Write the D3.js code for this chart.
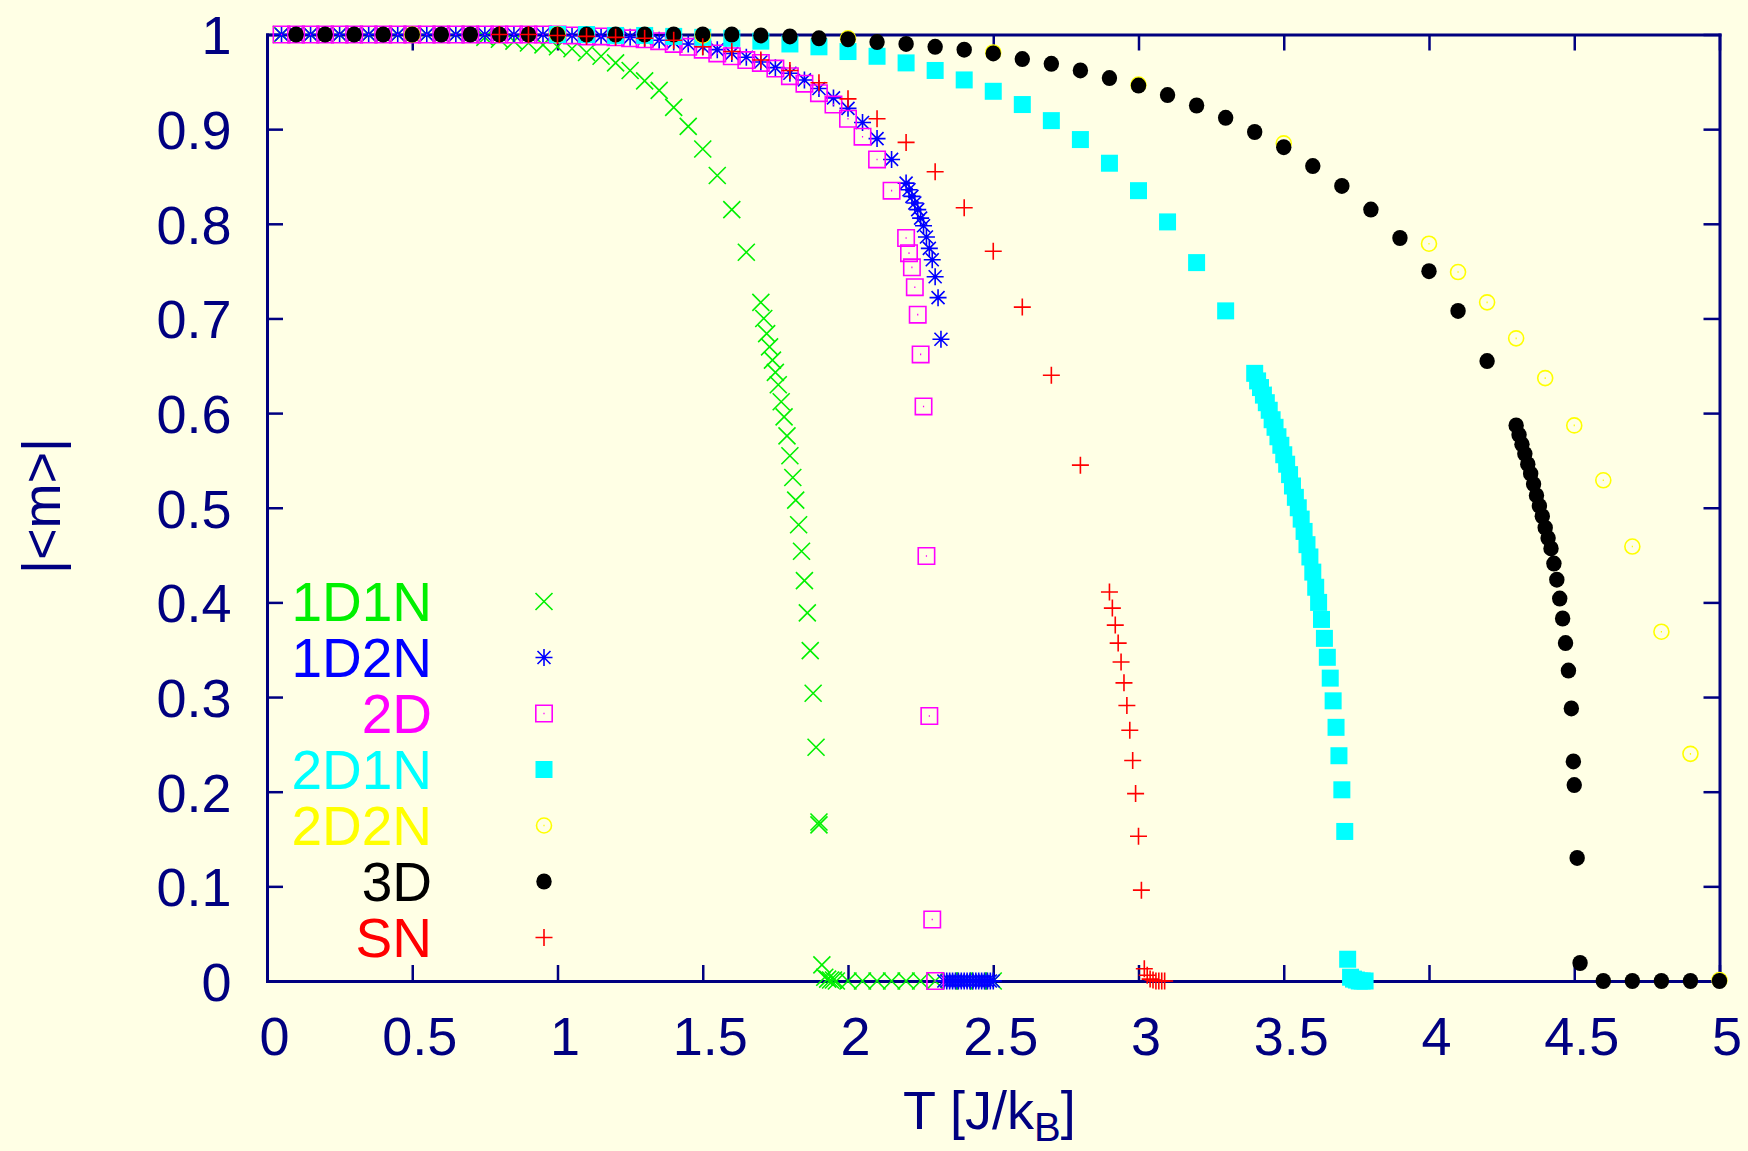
<!DOCTYPE html>
<html>
<head>
<meta charset="utf-8">
<script src="https://d3js.org/d3.v7.min.js"></script>
<style>
  body { margin: 0; background: #ffffe5; }
  svg { display: block; }
</style>
</head>
<body>
<div id="chart"></div>
<script>
// magnetisation |<m>| vs temperature T, one pair of arrays per model
var t1D1N = [0.05,0.1,0.15,0.2,0.25,0.3,0.35,0.4,0.45,0.5,0.55,0.6,0.65,0.7,0.75,0.8,0.85,0.9,0.95,1.0,1.05,1.1,1.15,1.2,1.25,1.3,1.35,1.4,1.45,1.5,1.55,1.6,1.65,
  1.70,1.71,1.72,1.73,1.74,1.75,1.76,1.77,1.78,1.79,1.80,1.81,1.82,1.83,1.84,1.85,1.86,1.87,1.88,1.89,1.90,1.90,1.91,1.92,1.93,1.94,1.95,1.96,
  2.0,2.05,2.1,2.15,2.2,2.25,2.3,2.35,2.4,2.45,2.5];
var m1D1N = [1,1,1,1,1,1,1,1,1,1,1,1,1,1,0.997,0.995,0.993,0.991,0.989,0.987,0.985,0.981,0.977,0.970,0.962,0.951,0.941,0.923,0.903,0.879,0.851,0.815,0.770,
  0.717,0.700,0.684,0.670,0.656,0.643,0.630,0.612,0.596,0.576,0.555,0.532,0.508,0.482,0.454,0.423,0.389,0.349,0.304,0.247,0.168,0.165,0.017,0.004,0.002,0.001,0.001,0,
  0,0,0,0,0,0,0,0,0,0,0];

var t1D2N = [0.05,0.1,0.15,0.2,0.25,0.3,0.35,0.4,0.45,0.5,0.55,0.6,0.65,0.7,0.75,0.8,0.85,0.9,0.95,1.0,1.05,1.1,1.15,1.2,1.25,1.3,1.35,1.4,1.45,1.5,1.55,1.6,1.65,1.7,1.75,1.8,1.85,1.9,1.95,2.0,2.05,2.1,2.15,
  2.20,2.21,2.22,2.23,2.24,2.25,2.26,2.27,2.28,2.29,2.30,2.31,2.32,
  2.33,2.34,2.35,2.36,2.37,2.38,2.39,2.40,2.41,2.42,2.43,2.44,2.45,2.46,2.47,2.48,2.49,2.50];
var m1D2N = [1,1,1,1,1,1,1,1,1,1,1,1,1,1,1,1,1,1,1,1,0.999,0.999,0.998,0.998,0.997,0.996,0.994,0.992,0.990,0.987,0.984,0.980,0.976,0.971,0.965,0.959,0.952,0.943,0.933,0.922,0.907,0.890,0.868,
  0.843,0.836,0.829,0.822,0.815,0.806,0.798,0.786,0.774,0.762,0.744,0.722,0.678,
  0,0,0,0,0,0,0,0,0,0,0,0,0,0,0,0,0,0];

var t2D = [0.05,0.1,0.15,0.2,0.25,0.3,0.35,0.4,0.45,0.5,0.55,0.6,0.65,0.7,0.75,0.8,0.85,0.9,0.95,1.0,1.05,1.1,1.15,1.2,1.25,1.3,1.35,1.4,1.45,1.5,1.55,1.6,1.65,1.7,1.75,1.8,1.85,1.9,1.95,2.0,2.05,2.1,2.15,
  2.20,2.21,2.22,2.23,2.24,2.25,2.26,2.27,2.28,2.29,2.30];
var m2D = [1,1,1,1,1,1,1,1,1,1,1,1,1,1,1,1,1,1,1,1,0.999,0.998,0.998,0.997,0.996,0.995,0.993,0.990,0.987,0.984,0.980,0.977,0.973,0.970,0.964,0.956,0.948,0.938,0.926,0.911,0.892,0.868,0.835,
  0.785,0.769,0.754,0.733,0.704,0.662,0.607,0.449,0.280,0.065,0];

var t2D1N = [1.0,1.1,1.2,1.3,1.4,1.5,1.6,1.7,1.8,1.9,2.0,2.1,2.2,2.3,2.4,2.5,2.6,2.7,2.8,2.9,3.0,3.1,3.2,3.3,
  3.40,3.41,3.42,3.43,3.44,3.45,3.46,3.47,3.48,3.49,3.50,3.51,3.52,3.53,3.54,3.55,3.56,3.57,3.58,3.59,3.60,3.61,3.62,3.63,
  3.64,3.65,3.66,3.67,3.68,3.69,3.70,3.71,3.72,3.73,3.74,3.75,3.76,3.77,3.78];
var m2D1N = [1,1,0.999,0.999,0.998,0.997,0.996,0.993,0.990,0.987,0.982,0.977,0.970,0.962,0.952,0.940,0.926,0.909,0.889,0.864,0.835,0.802,0.759,0.708,
  0.642,0.634,0.627,0.619,0.611,0.603,0.593,0.585,0.575,0.566,0.556,0.546,0.535,0.523,0.511,0.500,0.488,0.475,0.461,0.448,0.432,0.416,0.400,0.382,
  0.362,0.342,0.320,0.296,0.268,0.238,0.202,0.158,0.023,0.004,0.002,0.001,0,0,0];

var t2D2N = [0.5,1.0,1.5,2.0,2.5,3.0,3.5,4.0,4.1,4.2,4.3,4.4,4.5,4.6,4.7,4.8,4.9,5.0];
var m2D2N = [1,1,0.999,0.996,0.981,0.947,0.885,0.779,0.749,0.717,0.679,0.637,0.587,0.529,0.459,0.369,0.240,0.001];

var t3D = [0.1,0.2,0.3,0.4,0.5,0.6,0.7,0.8,0.9,1.0,1.1,1.2,1.3,1.4,1.5,1.6,1.7,1.8,1.9,2.0,2.1,2.2,2.3,2.4,2.5,2.6,2.7,2.8,2.9,3.0,3.1,3.2,3.3,3.4,3.5,3.6,3.7,3.8,3.9,4.0,4.1,4.2,
  4.30,4.31,4.32,4.33,4.34,4.35,4.36,4.37,4.38,4.39,4.40,4.41,4.42,4.43,4.44,4.45,4.46,4.47,4.48,4.49,4.497,4.50,4.51,4.52,
  4.6,4.7,4.8,4.9,5.0];
var m3D = [1,1,1,1,1,1,1,1,1,1,1,1,1,1,1,1,0.999,0.998,0.996,0.995,0.992,0.990,0.987,0.984,0.980,0.974,0.969,0.962,0.954,0.946,0.936,0.925,0.912,0.897,0.881,0.861,0.840,0.815,0.785,0.750,0.708,0.655,
  0.587,0.577,0.567,0.557,0.546,0.536,0.525,0.513,0.502,0.491,0.479,0.468,0.457,0.441,0.424,0.404,0.383,0.357,0.328,0.288,0.232,0.207,0.130,0.019,
  0,0,0,0,0];

var tSN = [0.8,0.9,1.0,1.1,1.2,1.3,1.4,1.5,1.6,1.7,1.8,1.9,2.0,2.1,2.2,2.3,2.4,2.5,2.6,2.7,2.8,
  2.90,2.91,2.92,2.93,2.94,2.95,2.96,2.97,2.98,2.99,3.00,3.01,3.02,3.03,3.04,3.05,3.06,3.07,3.08,3.09];
var mSN = [1,1,0.999,0.998,0.997,0.996,0.994,0.987,0.982,0.973,0.962,0.949,0.932,0.911,0.886,0.855,0.817,0.771,0.712,0.640,0.545,
  0.411,0.394,0.376,0.357,0.337,0.315,0.291,0.265,0.233,0.198,0.153,0.096,0.013,0.006,0.002,0.001,0,0,0,0];

var seriesNames = ["1D1N", "1D2N", "2D", "2D1N", "2D2N", "3D", "SN"];
var seriesColors = ["#00f000", "#0000ff", "#ff00ff", "#00ffff", "#ffff00", "#000000", "#ff0000"];
var seriesMarkers = ["cross", "star", "box", "fbox", "circle", "fcircle", "plus"];
var seriesT = [t1D1N, t1D2N, t2D, t2D1N, t2D2N, t3D, tSN];
var seriesM = [m1D1N, m1D2N, m2D, m2D1N, m2D2N, m3D, mSN];

var xTicks = [0, 0.5, 1, 1.5, 2, 2.5, 3, 3.5, 4, 4.5, 5];
var yTicks = [0, 0.1, 0.2, 0.3, 0.4, 0.5, 0.6, 0.7, 0.8, 0.9, 1];

var width = 1748, height = 1151;
var bgColor = "#ffffe5";
var axisColor = "#000080";
var fontFam = "'Liberation Sans', Arial, Helvetica, sans-serif";

var svg = d3.select("#chart")
  .append("svg")
  .attr("width", width)
  .attr("height", height);

svg.append("rect")
  .attr("width", width)
  .attr("height", height)
  .attr("fill", bgColor);

var x = d3.scaleLinear().domain([0, 5]).range([267, 1719.5]);
var y = d3.scaleLinear().domain([0, 1]).range([981, 34.5]);

function styleAxis(g) {
  g.select(".domain")
    .attr("stroke", axisColor)
    .attr("stroke-width", 3)
    .attr("stroke-linecap", "square");
  g.selectAll(".tick line")
    .attr("stroke", axisColor)
    .attr("stroke-width", 2.5);
  g.selectAll(".tick text")
    .attr("fill", axisColor)
    .style("font-size", "54px")
    .style("font-family", fontFam);
}

// bottom + left carry the labels, top + right are the mirrored ticks
svg.append("g")
  .attr("transform", "translate(0,981)")
  .call(d3.axisBottom(x).tickValues(xTicks).tickFormat(String).tickSize(-16).tickSizeOuter(0).tickPadding(36))
  .call(styleAxis)
  .selectAll(".tick text")
  .attr("dx", 7);

svg.append("g")
  .attr("transform", "translate(267,0)")
  .call(d3.axisLeft(y).tickValues(yTicks).tickFormat(String).tickSize(-16).tickSizeOuter(0).tickPadding(35.5))
  .call(styleAxis)
  .selectAll(".tick text")
  .attr("dy", "0.36em");

svg.append("g")
  .attr("transform", "translate(0,34.5)")
  .call(d3.axisTop(x).tickValues(xTicks).tickFormat("").tickSize(-16).tickSizeOuter(0))
  .call(styleAxis);

svg.append("g")
  .attr("transform", "translate(1719.5,0)")
  .call(d3.axisRight(y).tickValues(yTicks).tickFormat("").tickSize(-16).tickSizeOuter(0))
  .call(styleAxis);

// axis titles (subscript kept a little higher so it stays inside the page)
var xt = svg.append("text")
  .attr("x", 903)
  .attr("y", 1129)
  .attr("fill", axisColor)
  .style("font-family", fontFam)
  .style("font-size", "54px");
xt.append("tspan").text("T [J/k");
xt.append("tspan").attr("dy", 12).style("font-size", "40px").text("B");
xt.append("tspan").attr("dy", -12).text("]");

svg.append("text")
  .attr("transform", "translate(41,506) rotate(-90)")
  .attr("text-anchor", "middle")
  .attr("dy", "0.35em")
  .attr("fill", axisColor)
  .style("font-family", fontFam)
  .style("font-size", "54px")
  .text("|<m>|");

// gnuplot style point symbols
function markerPath(type) {
  switch (type) {
    case "cross": return "M-8.5,-8.5L8.5,8.5M-8.5,8.5L8.5,-8.5";
    case "star": return "M-8.5,0L8.5,0M0,-8.5L0,8.5M-6.5,-6.5L6.5,6.5M-6.5,6.5L6.5,-6.5";
    case "plus": return "M-8.5,0L8.5,0M0,-8.5L0,8.5";
    case "box": return "M-8.2,-8.2H8.2V8.2H-8.2ZM-0.6,0H0.6";
    case "fbox": return "M-8.5,-8.5H8.5V8.5H-8.5Z";
    case "circle": return "M-7.5,0A7.5,7.5 0 1,0 7.5,0A7.5,7.5 0 1,0 -7.5,0ZM-0.6,0H0.6";
    case "fcircle": return "M-7.7,0A7.7,8 0 1,0 7.7,0A7.7,8 0 1,0 -7.7,0Z";
  }
}

function isFilled(type) {
  return type == "fbox" || type == "fcircle";
}

function drawMarker(sel, type, color) {
  sel.attr("d", markerPath(type))
    .attr("fill", isFilled(type) ? color : "none")
    .attr("stroke", isFilled(type) ? "none" : color)
    .attr("stroke-width", 1.6);
}

var points = svg.append("g").attr("class", "points");

seriesNames.forEach(function(name, i) {
  var data = d3.zip(seriesT[i], seriesM[i]);
  points.append("g")
    .attr("class", "series-" + name)
    .selectAll("path")
    .data(data)
    .enter()
    .append("path")
    .attr("transform", function(d) { return "translate(" + x(d[0]) + "," + y(d[1]) + ")"; })
    .call(drawMarker, seriesMarkers[i], seriesColors[i]);
});

// legend, bottom-left inside the frame
var legend = svg.append("g").attr("class", "legend");

seriesNames.forEach(function(name, i) {
  var ly = 601.5 + i * 56;
  legend.append("text")
    .attr("x", 432)
    .attr("y", ly)
    .attr("dy", "0.36em")
    .attr("text-anchor", "end")
    .attr("fill", seriesColors[i])
    .style("font-family", fontFam)
    .style("font-size", "55px")
    .text(name);
  legend.append("path")
    .attr("transform", "translate(544," + ly + ")")
    .call(drawMarker, seriesMarkers[i], seriesColors[i]);
});
</script>
</body>
</html>
